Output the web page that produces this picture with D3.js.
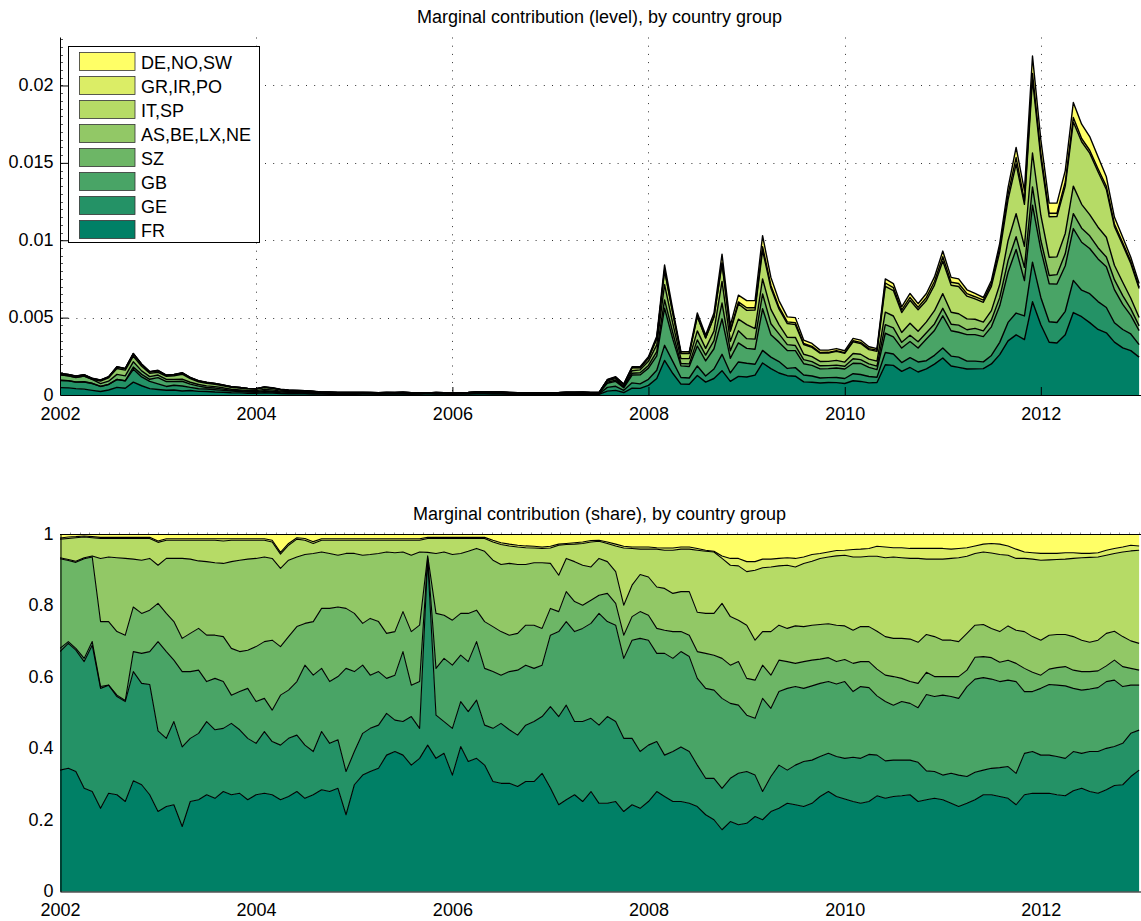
<!DOCTYPE html>
<html><head><meta charset="utf-8">
<script src="https://cdn.jsdelivr.net/npm/d3@7"></script>
<style>
body{margin:0;background:#fff;}
svg{display:block;font-family:"Liberation Sans",Arial,Helvetica,sans-serif;}
</style></head><body>
<svg id="chart" width="1141" height="921"></svg>
<script>
// ---------------- data ----------------
const groups = ["FR","GE","GB","SZ","AS,BE,LX,NE","IT,SP","GR,IR,PO","DE,NO,SW"];
const groupColors = ["#008066","#249266","#49A466","#6DB666","#92C866","#B6DB66","#DBED66","#FFFF66"];
const xTickLabels = ["2002","2004","2006","2008","2010","2012"];
const yTickTop = [0,0.005,0.01,0.015,0.02];
const yTickTopLabels = ["0","0.005","0.01","0.015","0.02"];
const yTickBot = [0,0.2,0.4,0.6,0.8,1];
const yTickBotLabels = ["0","0.2","0.4","0.6","0.8","1"];
const titles = ["Marginal contribution (level), by country group","Marginal contribution (share), by country group"];

// monthly observations, Jan 2002 .. Jan 2013
// total marginal contribution (level), in units of 1e-3
const levelTotalE3 = [
1.40,1.33,1.23,1.31,1.08,0.97,1.18,1.83,1.72,2.69,2.00,1.51,1.60,1.29,1.33,1.44,1.14,0.92,0.82,0.75,0.65,0.54,0.49,0.43,0.41,0.52,0.47,0.37,0.32,0.30,0.28,0.24,0.19,0.19,0.17,0.17,0.17,
0.17,0.16,0.15,0.17,0.16,0.18,0.15,0.15,0.14,0.16,0.15,0.14,0.15,0.16,0.20,0.21,0.20,0.20,0.17,0.15,0.14,0.15,0.14,0.15,0.16,0.18,0.18,0.19,0.17,0.16,
1.00,1.18,0.71,1.83,1.83,2.47,3.80,8.40,5.50,2.80,2.80,5.30,3.87,5.30,9.10,4.50,6.45,6.10,6.10,10.30,7.60,6.10,
5.05,5.00,3.55,3.33,2.90,2.90,3.00,2.86,3.66,3.55,3.12,3.00,7.50,7.20,5.70,6.56,5.90,6.56,7.63,9.30,7.60,7.50,6.80,6.56,6.30,7.40,9.80,13.40,16.00,13.20,21.90,16.50,12.40,12.40,14.50,18.90,17.50,16.70,15.40,14.10,11.50,10.20,8.90,7.20];

// cumulative shares (top edge of each group's band, stacked from FR upwards)
const shareCumFR = [
0.340,0.345,0.336,0.289,0.280,0.233,0.275,0.271,0.252,0.310,0.299,0.271,0.224,0.238,0.243,0.182,0.252,0.257,0.271,0.261,0.280,0.271,0.275,0.257,0.271,0.275,0.271,0.257,0.266,0.280,0.261,0.271,0.285,0.280,0.289,0.215,0.299,0.326,0.336,0.345,0.382,0.392,0.382,0.354,0.373,
0.410,0.373,0.387,0.326,0.406,0.364,0.373,0.354,0.308,0.303,0.303,0.294,0.308,0.308,0.331,0.290,0.243,0.257,0.271,0.252,0.280,0.247,0.247,0.252,0.224,0.243,0.233,0.252,0.280,0.266,0.252,0.252,0.247,0.238,0.215,0.201,0.173,0.196,0.187,0.191,0.210,0.201,0.224,0.233,0.247,
0.243,0.238,0.247,0.266,0.280,0.266,0.259,0.252,0.247,0.252,0.268,0.261,0.266,0.268,0.271,0.252,0.257,0.261,0.257,0.247,0.238,0.247,0.257,0.271,0.271,0.266,0.261,0.243,0.271,0.275,0.275,0.275,0.271,0.268,0.282,0.289,0.280,0.275,0.285,0.297,0.299,0.322,0.340];
const shareCumGE = [
0.672,0.695,0.676,0.644,0.690,0.569,0.578,0.546,0.532,0.616,0.583,0.580,0.450,0.429,0.476,0.405,0.429,0.443,0.476,0.453,0.457,0.471,0.453,0.429,0.415,0.448,0.420,0.410,0.429,0.438,0.410,0.392,0.448,0.415,0.425,0.336,0.392,0.443,0.457,0.466,0.499,0.480,0.476,0.490,0.457,
0.930,0.494,0.476,0.457,0.532,0.504,0.536,0.466,0.457,0.471,0.453,0.438,0.466,0.476,0.490,0.518,0.490,0.522,0.476,0.476,0.485,0.466,0.490,0.476,0.429,0.429,0.392,0.410,0.420,0.382,0.392,0.405,0.392,0.354,0.317,0.317,0.289,0.317,0.331,0.336,0.326,0.280,0.322,0.354,0.340,
0.354,0.364,0.368,0.378,0.387,0.378,0.373,0.376,0.373,0.384,0.382,0.366,0.368,0.368,0.368,0.362,0.338,0.336,0.326,0.331,0.326,0.322,0.334,0.340,0.345,0.347,0.350,0.331,0.387,0.392,0.382,0.382,0.378,0.373,0.392,0.387,0.392,0.392,0.401,0.406,0.415,0.443,0.452];
const shareCumGB = [
0.681,0.700,0.681,0.653,0.700,0.574,0.578,0.550,0.535,0.672,0.667,0.672,0.700,0.672,0.648,0.616,0.616,0.620,0.588,0.597,0.588,0.550,0.560,0.569,0.532,0.541,0.508,0.550,0.564,0.588,0.634,0.606,0.625,0.588,0.602,0.625,0.616,0.634,0.606,0.616,0.597,0.606,0.672,0.578,0.588,
0.935,0.625,0.653,0.634,0.662,0.644,0.700,0.625,0.616,0.606,0.616,0.620,0.634,0.625,0.634,0.718,0.728,0.756,0.728,0.737,0.751,0.779,0.756,0.746,0.653,0.704,0.709,0.704,0.667,0.667,0.653,0.672,0.658,0.597,0.569,0.564,0.541,0.527,0.522,0.494,0.485,0.541,0.513,0.560,0.569,
0.574,0.569,0.576,0.583,0.588,0.581,0.588,0.560,0.574,0.571,0.548,0.532,0.522,0.532,0.527,0.515,0.552,0.546,0.550,0.546,0.541,0.574,0.595,0.599,0.595,0.588,0.592,0.588,0.560,0.560,0.569,0.580,0.578,0.576,0.569,0.564,0.567,0.571,0.588,0.592,0.574,0.578,0.578];
const shareCumSZ = [
0.932,0.927,0.922,0.932,0.937,0.756,0.756,0.728,0.718,0.797,0.779,0.788,0.807,0.779,0.756,0.709,0.723,0.737,0.718,0.718,0.714,0.681,0.672,0.676,0.686,0.700,0.704,0.686,0.714,0.742,0.751,0.756,0.793,0.793,0.797,0.793,0.779,0.751,0.765,0.756,0.723,0.728,0.784,0.728,0.746,
0.940,0.779,0.774,0.760,0.779,0.779,0.788,0.756,0.742,0.728,0.718,0.723,0.746,0.746,0.737,0.793,0.784,0.840,0.812,0.802,0.816,0.830,0.835,0.807,0.718,0.770,0.784,0.774,0.737,0.732,0.728,0.728,0.718,0.672,0.667,0.662,0.653,0.634,0.644,0.597,0.592,0.634,0.606,0.648,0.644,
0.639,0.644,0.648,0.651,0.655,0.644,0.650,0.639,0.644,0.644,0.623,0.606,0.602,0.597,0.588,0.583,0.614,0.602,0.602,0.602,0.602,0.620,0.656,0.658,0.655,0.642,0.648,0.639,0.625,0.614,0.606,0.623,0.627,0.630,0.620,0.616,0.616,0.618,0.632,0.648,0.630,0.625,0.620];
const shareCumAS = [
0.935,0.930,0.925,0.935,0.940,0.933,0.937,0.935,0.933,0.931,0.928,0.933,0.914,0.933,0.933,0.933,0.931,0.926,0.924,0.921,0.919,0.924,0.928,0.931,0.933,0.937,0.933,0.905,0.928,0.937,0.944,0.947,0.951,0.947,0.942,0.947,0.947,0.942,0.944,0.947,0.951,0.949,0.951,0.942,0.951,
0.950,0.947,0.951,0.944,0.947,0.953,0.961,0.953,0.928,0.916,0.919,0.916,0.916,0.921,0.921,0.919,0.886,0.933,0.924,0.914,0.909,0.933,0.924,0.896,0.802,0.858,0.888,0.881,0.853,0.849,0.835,0.840,0.840,0.782,0.779,0.779,0.807,0.770,0.760,0.746,0.704,0.728,0.728,0.746,0.737,
0.744,0.742,0.746,0.748,0.750,0.746,0.744,0.732,0.742,0.742,0.729,0.714,0.709,0.709,0.707,0.698,0.720,0.714,0.704,0.704,0.700,0.723,0.746,0.748,0.737,0.728,0.744,0.732,0.728,0.714,0.704,0.718,0.720,0.720,0.714,0.704,0.698,0.704,0.723,0.729,0.714,0.702,0.695];
const shareCumIT = [
0.987,0.989,0.991,0.993,0.991,0.989,0.989,0.989,0.989,0.989,0.989,0.989,0.978,0.984,0.984,0.984,0.984,0.984,0.984,0.984,0.982,0.984,0.984,0.984,0.984,0.984,0.979,0.945,0.970,0.987,0.984,0.975,0.984,0.984,0.984,0.984,0.984,0.984,0.984,0.984,0.984,0.984,0.984,0.984,0.984,
0.989,0.989,0.989,0.989,0.989,0.989,0.989,0.989,0.979,0.972,0.968,0.965,0.963,0.962,0.961,0.962,0.970,0.972,0.973,0.975,0.979,0.981,0.975,0.968,0.962,0.961,0.959,0.959,0.959,0.956,0.956,0.959,0.959,0.956,0.953,0.951,0.933,0.914,0.912,0.896,0.900,0.907,0.909,0.912,0.914,
0.909,0.919,0.925,0.933,0.937,0.940,0.942,0.937,0.937,0.939,0.939,0.935,0.937,0.935,0.933,0.933,0.931,0.931,0.931,0.933,0.935,0.939,0.947,0.951,0.948,0.944,0.942,0.933,0.933,0.931,0.928,0.929,0.930,0.931,0.933,0.935,0.936,0.937,0.942,0.947,0.951,0.954,0.956];
const shareCumGR = [
0.990,0.993,0.994,0.996,0.994,0.992,0.992,0.992,0.992,0.992,0.992,0.992,0.982,0.988,0.988,0.988,0.988,0.988,0.988,0.988,0.988,0.988,0.988,0.988,0.988,0.988,0.984,0.950,0.975,0.991,0.989,0.980,0.988,0.988,0.988,0.988,0.988,0.988,0.988,0.988,0.988,0.988,0.988,0.988,0.988,
0.992,0.992,0.992,0.992,0.992,0.992,0.992,0.992,0.984,0.977,0.973,0.970,0.968,0.967,0.965,0.967,0.973,0.975,0.977,0.979,0.983,0.984,0.979,0.973,0.967,0.965,0.965,0.965,0.963,0.962,0.962,0.965,0.965,0.961,0.956,0.953,0.940,0.933,0.933,0.924,0.924,0.931,0.931,0.933,0.935,
0.933,0.937,0.944,0.947,0.951,0.955,0.956,0.958,0.959,0.961,0.967,0.965,0.963,0.963,0.961,0.961,0.961,0.961,0.961,0.959,0.961,0.963,0.968,0.973,0.975,0.973,0.968,0.959,0.951,0.949,0.947,0.947,0.947,0.949,0.949,0.947,0.947,0.949,0.956,0.961,0.965,0.970,0.968];

// ---------------- drawing ----------------
const dates = d3.timeMonth.range(new Date(2002,0,1), new Date(2013,0,2));
const levelTotal = levelTotalE3.map(v => v / 1000);
const cumShares = [shareCumFR, shareCumGE, shareCumGB, shareCumSZ, shareCumAS, shareCumIT, shareCumGR, dates.map(() => 1)];
const cumLevels = cumShares.map(arr => arr.map((s, i) => s * levelTotal[i]));

const svg = d3.select("#chart");
const FONT = 18;
const x = d3.scaleTime().domain([new Date(2002,0,1), new Date(2013,0,8)]).range([60, 1141]);
const tickDates = xTickLabels.map(s => new Date(+s, 0, 1));
const L = 60, R = 1141;

const yTop = d3.scaleLinear().domain([0, 0.0231]).range([395, 37.5]);
const yBot = d3.scaleLinear().domain([0, 1]).range([891.5, 534.5]);

const defs = svg.append("defs");
defs.append("clipPath").attr("id","clipTop").append("rect").attr("x",L).attr("y",30).attr("width",R-L).attr("height",366);
defs.append("clipPath").attr("id","clipBot").append("rect").attr("x",L).attr("y",534).attr("width",R-L).attr("height",358);

function drawStack(g, yS, bounds, lw) {
  const zeros = dates.map(() => 0);
  bounds.forEach((upper, k) => {
    const lower = k ? bounds[k-1] : zeros;
    const area = d3.area()
      .x((d,i) => x(dates[i]))
      .y0((d,i) => yS(lower[i]))
      .y1((d,i) => yS(upper[i]));
    g.append("path").datum(dates).attr("d", area).attr("fill", groupColors[k]).attr("stroke","none");
  });
  bounds.forEach((upper) => {
    const line = d3.line().x((d,i) => x(dates[i])).y((d,i) => yS(upper[i]));
    g.append("path").datum(dates).attr("d", line).attr("fill","none")
      .attr("stroke","#000").attr("stroke-width", lw).attr("stroke-linejoin","round");
  });
}

// ---- top panel ----
const gTop = svg.append("g");
const grid = gTop.append("g").attr("stroke","#333").attr("stroke-width",1).attr("stroke-dasharray","1,7.2");
tickDates.slice(1).forEach(d => {
  grid.append("line").attr("x1",Math.round(x(d))+0.5).attr("x2",Math.round(x(d))+0.5).attr("y1",37.5).attr("y2",395);
});
yTickTop.slice(1).forEach(v => {
  grid.append("line").attr("x1",L).attr("x2",R).attr("y1",Math.round(yTop(v))+0.5).attr("y2",Math.round(yTop(v))+0.5);
});
const minorTop = gTop.append("g").attr("stroke","#555").attr("stroke-width",1);
d3.range(0.0005, 0.0231, 0.0005).forEach(v => {
  minorTop.append("line").attr("x1",L).attr("x2",L+3).attr("y1",Math.round(yTop(v))+0.5).attr("y2",Math.round(yTop(v))+0.5);
});
drawStack(gTop.append("g").attr("clip-path","url(#clipTop)"), yTop, cumLevels, 1.4);

const axYTop = gTop.append("g").attr("transform",`translate(${L+0.5},0)`)
  .call(d3.axisLeft(yTop).tickValues(yTickTop).tickFormat((d,i) => yTickTopLabels[i]).tickSizeInner(-8).tickSizeOuter(0).tickPadding(7));
const axXTop = gTop.append("g").attr("transform",`translate(0,395)`)
  .call(d3.axisBottom(x).tickValues(tickDates).tickFormat((d,i) => xTickLabels[i]).tickSizeInner(-8).tickSizeOuter(0).tickPadding(12));
[axYTop, axXTop].forEach(a => {
  a.selectAll("text").attr("font-size",FONT).attr("fill","#000").attr("font-family","Liberation Sans, Arial, sans-serif");
  a.selectAll("line").attr("stroke","#000");
  a.select(".domain").attr("stroke","#000").attr("stroke-width",1);
});
axYTop.selectAll("text").attr("dy","0.28em");
axYTop.select(".domain").attr("d","M0,37.5V395");
svg.append("text").attr("x",599.5).attr("y",23.3).attr("text-anchor","middle").attr("font-size",FONT).text(titles[0]);

// legend
const leg = svg.append("g");
leg.append("rect").attr("x",68.5).attr("y",46.5).attr("width",191).attr("height",196).attr("fill","#fff").attr("stroke","#000").attr("stroke-width",1);
for (let r = 0; r < 8; r++) {
  const k = 7 - r;
  leg.append("rect").attr("x",79.5).attr("y",52.5 + 24*r).attr("width",55.5).attr("height",18)
    .attr("fill",groupColors[k]).attr("stroke","#333").attr("stroke-width",0.8);
  leg.append("text").attr("x",141).attr("y",69.3 + 24*r).attr("font-size",FONT).text(groups[k]);
}

// ---- bottom panel ----
const gBot = svg.append("g");
drawStack(gBot.append("g").attr("clip-path","url(#clipBot)"), yBot, cumShares, 1.1);
const axYBot = gBot.append("g").attr("transform",`translate(${L+0.5},0)`)
  .call(d3.axisLeft(yBot).tickValues(yTickBot).tickFormat((d,i) => yTickBotLabels[i]).tickSizeInner(0).tickSizeOuter(0).tickPadding(7));
const axXBot = gBot.append("g").attr("transform",`translate(0,891.5)`)
  .call(d3.axisBottom(x).tickValues(tickDates).tickFormat((d,i) => xTickLabels[i]).tickSizeInner(0).tickSizeOuter(0).tickPadding(12));
[axYBot, axXBot].forEach(a => {
  a.selectAll("text").attr("font-size",FONT).attr("fill","#000").attr("font-family","Liberation Sans, Arial, sans-serif");
  a.select(".domain").attr("stroke","#000").attr("stroke-width",1);
});
axYBot.selectAll("text").attr("dy","0.28em");
gBot.append("line").attr("x1",L).attr("x2",R).attr("y1",534.5).attr("y2",534.5).attr("stroke","#000").attr("stroke-width",1);
const minorBot = gBot.append("g").attr("stroke","#999").attr("stroke-width",1);
d3.range(2002.1, 2013.0, 0.1).forEach(yr => {
  const xx = Math.round(L + (yr - 2002) * 98.1) + 0.5;
  minorBot.append("line").attr("x1",xx).attr("x2",xx).attr("y1",532.5).attr("y2",534);
});
svg.append("text").attr("x",599.5).attr("y",520).attr("text-anchor","middle").attr("font-size",FONT).text(titles[1]);
</script>
</body></html>
